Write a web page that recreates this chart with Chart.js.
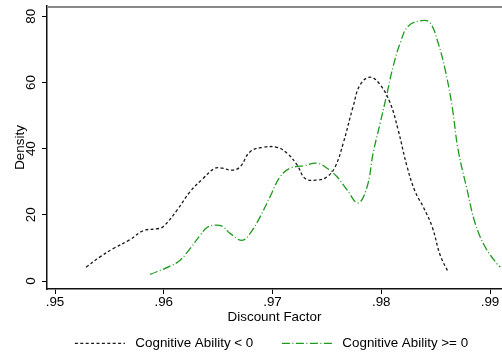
<!doctype html>
<html lang="en">
<head>
  <meta charset="utf-8">
  <title>Discount Factor density by cognitive ability</title>
  <style>
    * { margin: 0; padding: 0; }
    body { background: #fff; }
    .chartBox { width: 502px; height: 360px; }
  </style>
</head>
<body>
  <div class="chartBox"><canvas id="myChart"></canvas></div>
  <script src="https://cdn.jsdelivr.net/npm/chart.js"></script>
  <script>
    // setup
    const seriesNames = ['Cognitive Ability < 0', 'Cognitive Ability >= 0'];

    const lowX = [0.95285, 0.95414, 0.95534, 0.95690, 0.95810, 0.95938, 0.95994, 0.96122, 0.96242, 0.96362,
      0.96472, 0.96536, 0.96628, 0.96702, 0.96794, 0.96914, 0.97042, 0.97134, 0.97226, 0.97300,
      0.97410, 0.97502, 0.97576, 0.97650, 0.97741, 0.97806, 0.97898, 0.97990, 0.98082, 0.98155,
      0.98238, 0.98312, 0.98386, 0.98468, 0.98542, 0.98615];
    const lowDensity = [4.2, 7.3, 9.8, 12.5, 15.2, 15.8, 16.4, 21.4, 27.0, 31.0,
      34.1, 34.1, 33.5, 34.5, 39.1, 40.4, 40.4, 38.6, 35.1, 31.0,
      30.5, 31.5, 34.5, 41.6, 52.7, 59.3, 61.6, 59.3, 53.8, 45.7,
      34.5, 27.0, 22.4, 16.4, 7.8, 2.7];

    const highX = [0.95874, 0.96058, 0.96150, 0.96242, 0.96334, 0.96398, 0.96472, 0.96536, 0.96610, 0.96720,
      0.96794, 0.96886, 0.96978, 0.97070, 0.97162, 0.97282, 0.97410, 0.97502, 0.97594, 0.97686,
      0.97788, 0.97870, 0.97925, 0.97990, 0.98054, 0.98109, 0.98174, 0.98248, 0.98376, 0.98450,
      0.98523, 0.98588, 0.98652, 0.98707, 0.98790, 0.98864, 0.98956, 0.99066, 0.99094];
    const highDensity = [2.0, 4.5, 6.3, 9.8, 13.8, 16.2, 16.9, 16.6, 14.4, 12.3,
      14.4, 19.4, 25.5, 31.5, 34.1, 34.8, 35.6, 34.1, 31.5, 27.5,
      23.6, 28.5, 38.6, 47.7, 56.8, 64.8, 71.9, 77.0, 78.7, 78.0,
      71.9, 63.8, 52.7, 39.6, 27.5, 17.4, 10.3, 5.1, 4.2];

    const xTicks = [0.95, 0.96, 0.97, 0.98, 0.99];
    const yTicks = [0, 20, 40, 60, 80];

    const font = { family: '"Liberation Sans", Arial, sans-serif', size: 13.4 };

    const toPoints = (xs, ys) => xs.map((x, i) => ({ x: x, y: ys[i] }));

    const data = {
      datasets: [{
        label: seriesNames[0],
        data: toPoints(lowX, lowDensity),
        borderColor: '#1a1a1a',
        borderWidth: 1.3,
        borderDash: [3, 2.4],
        pointRadius: 0,
        tension: 0.4,
        fill: false
      },
      {
        label: seriesNames[1],
        data: toPoints(highX, highDensity),
        borderColor: '#1e9a1e',
        borderWidth: 1.3,
        borderDash: [8, 2.5, 1, 2.5],
        pointRadius: 0,
        tension: 0.4,
        fill: false
      }]
    };

    // grey frame line along the top of the plot region
    const topBorder = {
      id: 'topBorder',
      afterDraw(chart) {
        const { ctx, chartArea: { top, left, right } } = chart;
        ctx.save();
        ctx.strokeStyle = '#888';
        ctx.lineWidth = 2;
        ctx.beginPath();
        ctx.moveTo(left, top + 1);
        ctx.lineTo(right, top + 1);
        ctx.stroke();
        ctx.restore();
      }
    };

    // center the legend row under the plot region, not the whole canvas
    const legendAlign = {
      id: 'legendAlign',
      afterLayout(chart) {
        chart.legend.left = chart.chartArea.left - 6;
        chart.legend.right = chart.chartArea.right;
      }
    };

    // config
    const config = {
      type: 'line',
      data,
      options: {
        responsive: true,
        maintainAspectRatio: false,
        animation: false,
        layout: { padding: { top: 6, right: 0, bottom: 0, left: 0 } },
        scales: {
          x: {
            type: 'linear',
            min: 0.949264,
            max: 0.991103,
            afterBuildTicks: (scale) => { scale.ticks = xTicks.map(v => ({ value: v })); },
            afterFit: (scale) => { scale.height = 37.6; scale.paddingLeft = 0; scale.paddingRight = 0; },
            ticks: {
              font,
              color: '#000',
              padding: 0,
              maxRotation: 0,
              callback: (v) => v.toFixed(2).slice(1)
            },
            grid: { drawOnChartArea: false, drawTicks: true, tickLength: 5, color: '#000', lineWidth: 1 },
            border: { color: '#111', width: 1.5 },
            title: { display: true, text: 'Discount Factor', font, color: '#000', padding: { top: 0, bottom: 1.5 } }
          },
          y: {
            type: 'linear',
            min: -2.4,
            max: 83.1,
            afterBuildTicks: (scale) => { scale.ticks = yTicks.map(v => ({ value: v })); },
            afterFit: (scale) => { scale.width = 47; scale.paddingTop = 0; scale.paddingBottom = 0; },
            ticks: {
              font,
              color: '#000',
              padding: 3.5,
              minRotation: 90,
              maxRotation: 90,
              crossAlign: 'center',
              callback: (v) => String(v)
            },
            grid: { drawOnChartArea: false, drawTicks: true, tickLength: 5, color: '#000', lineWidth: 1 },
            border: { color: '#111', width: 1.5 },
            title: { display: true, text: 'Density', font, color: '#000', padding: { top: 12, bottom: 0 } }
          }
        },
        plugins: {
          tooltip: { enabled: false },
          legend: {
            position: 'bottom',
            labels: {
              font,
              color: '#000',
              usePointStyle: true,
              pointStyle: 'line',
              pointStyleWidth: 50,
              padding: 10,
              generateLabels: (chart) => {
                const items = Chart.defaults.plugins.legend.labels.generateLabels(chart);
                items.forEach((item, i) => {
                  item.lineDash = chart.data.datasets[i].borderDash;
                  item.text = ' ' + item.text + (i === 0 ? '     ' : '');
                });
                return items;
              }
            }
          }
        }
      },
      plugins: [topBorder, legendAlign]
    };

    // render init block
    const myChart = new Chart(
      document.getElementById('myChart'),
      config
    );
  </script>
</body>
</html>
